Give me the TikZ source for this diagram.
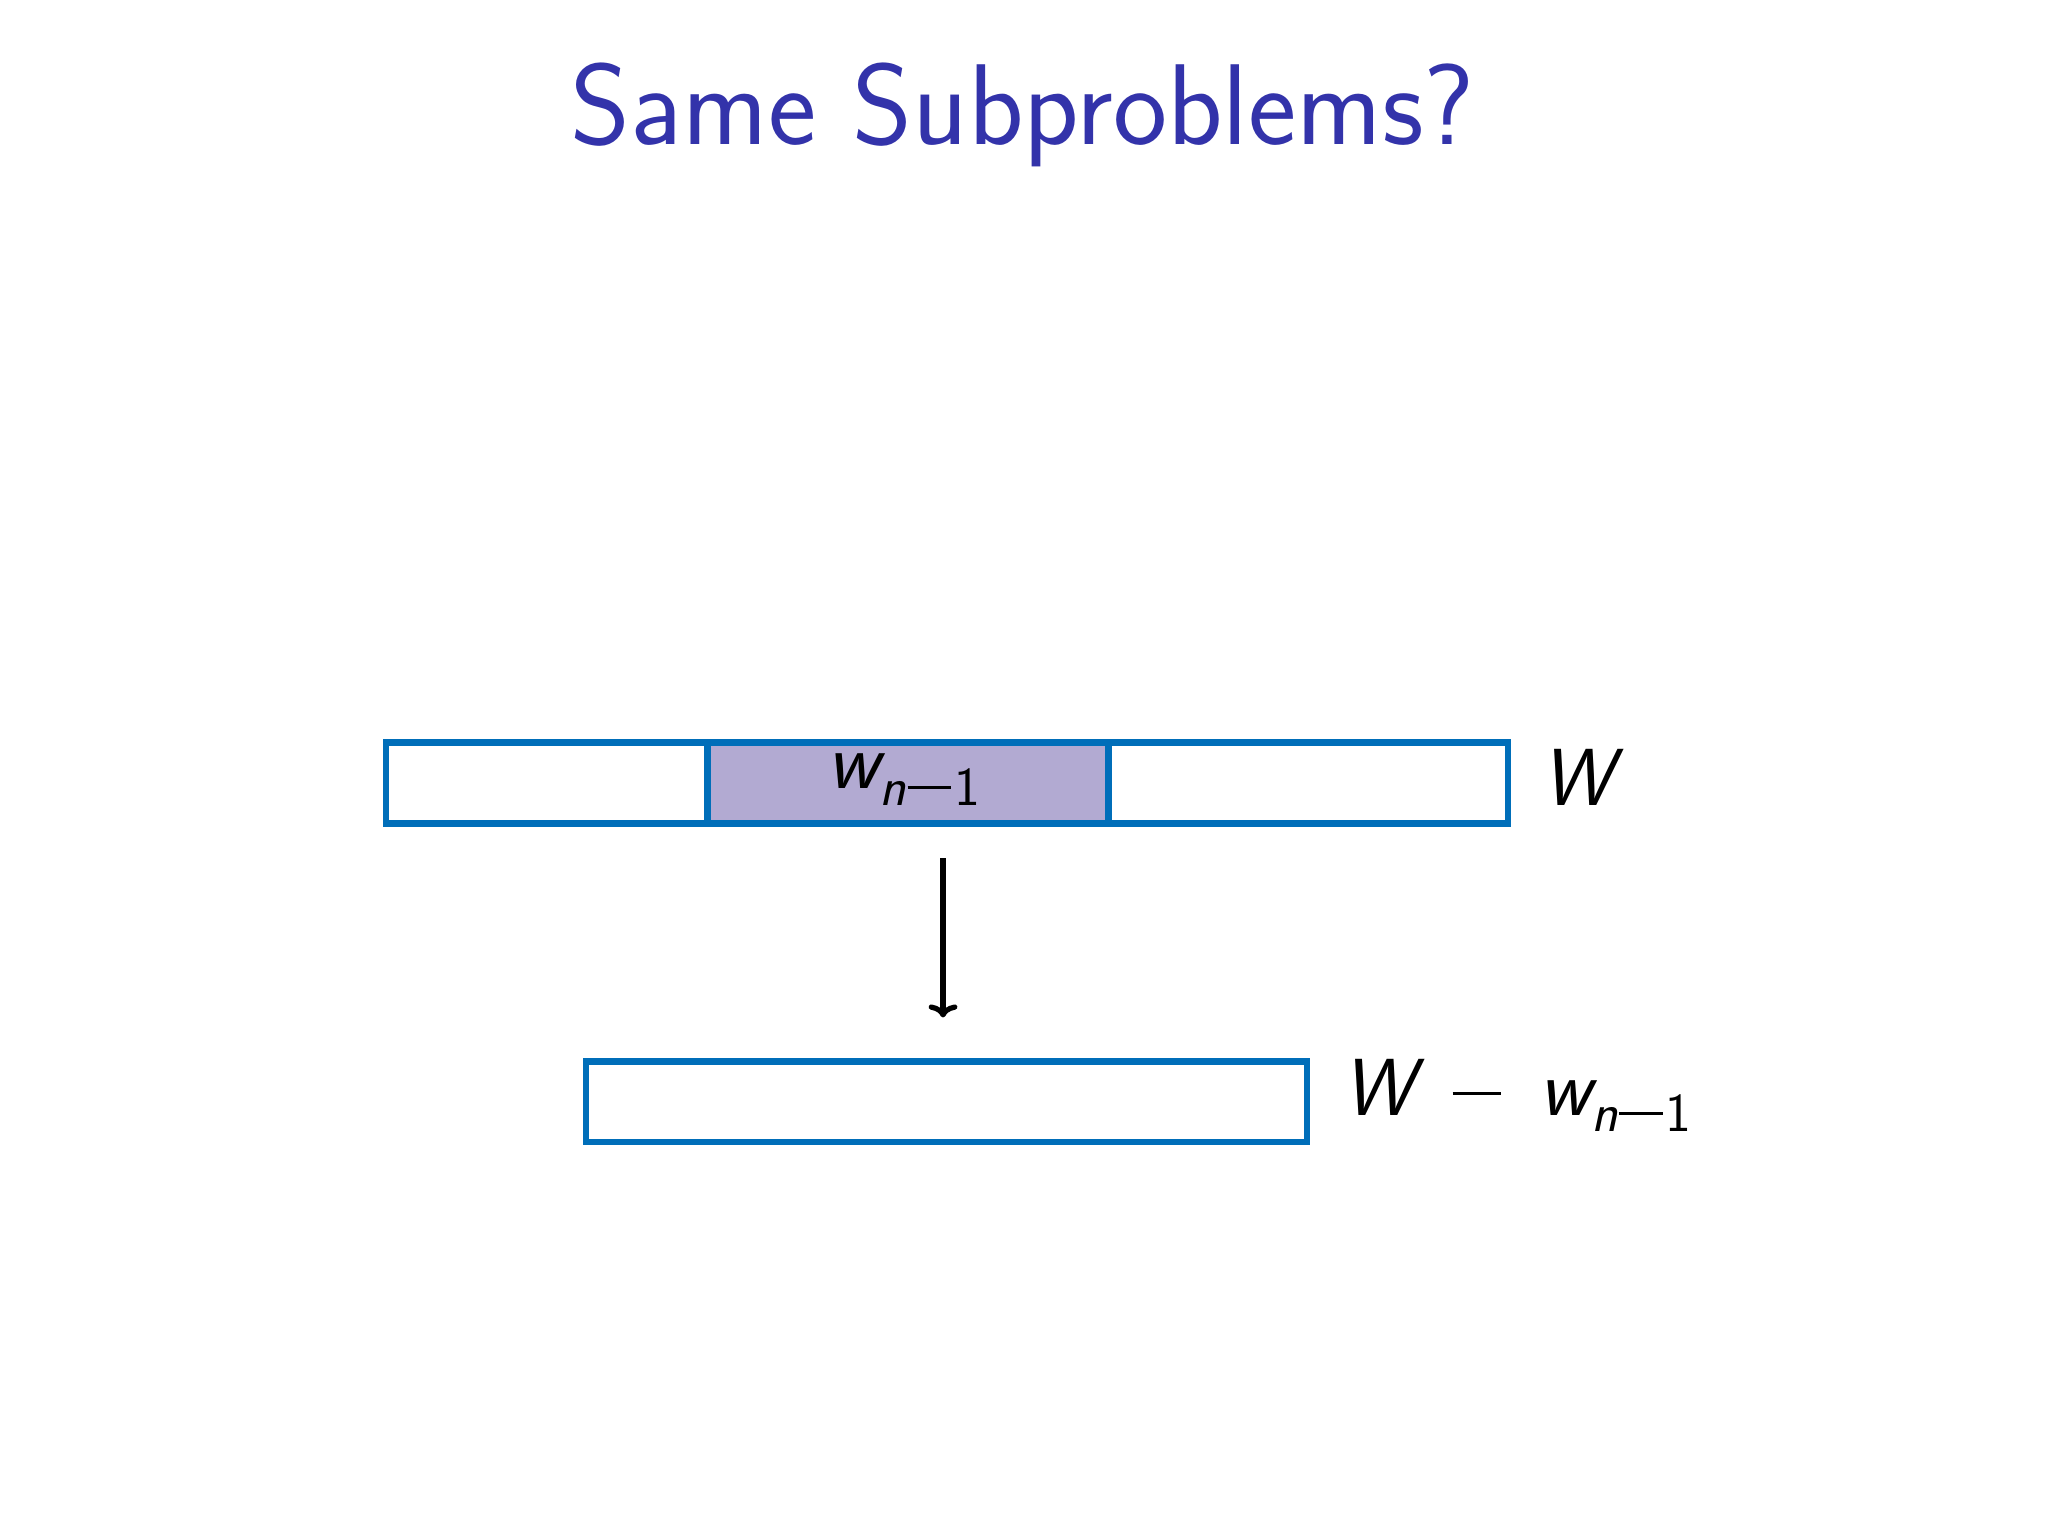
\documentclass[tikz,border=0pt]{standalone}
\usetikzlibrary{arrows.meta}
\definecolor{titleblue}{RGB}{51,51,170}
\definecolor{barblue}{RGB}{0,110,185}
\definecolor{midfill}{RGB}{178,170,210}
\newcommand{\sw}{{\sffamily\slshape w}}
\newcommand{\sW}{{\sffamily\slshape W}}
\newcommand{\snm}{\raisebox{-0.2em}{\fontsize{42}{44}\selectfont\sffamily{\slshape n}\kern1pt\rule[0.3em]{0.8em}{0.05em}\kern2pt1}}
\begin{document}
\begin{tikzpicture}[x=1pt,y=-1pt,
  bar/.style={draw=barblue,line width=5pt,fill=white},
  lbl/.style={inner sep=0pt,anchor=base west}]
\useasboundingbox (0,0) rectangle (1568,1176);
\node[inner sep=0pt,anchor=base,text=titleblue,font=\sffamily\fontsize{88}{92}\selectfont] (title) at (783,111) {Same Subproblems?};
\node[bar,minimum width=859pt,minimum height=62pt,anchor=north west,inner sep=0pt] (top) at (293,566) {};
\node[bar,fill=midfill,minimum width=307pt,minimum height=62pt,anchor=north west,inner sep=0pt] (mid) at (539,566) {};
\node[lbl,anchor=base,font=\fontsize{62}{66}\selectfont] (wl) at (692,604) {\sw\snm};
\node[lbl,font=\fontsize{62}{66}\selectfont] (Wl) at (1180,617) {\sW};
\node[bar,minimum width=552pt,minimum height=62pt,anchor=north west,inner sep=0pt] (bot) at (446,810) {};
\node[lbl,font=\fontsize{62}{66}\selectfont] (Wm) at (1028,854) {\sW\ \,\rule[0.25em]{0.6em}{0.04em}\ \,\sw\snm};
\coordinate (a1) at (722,657);
\coordinate (a2) at (722,779);
\draw[line width=4pt,-{To[length=10pt,width=22pt]}] (a1) -- (a2);
\end{tikzpicture}
\end{document}
